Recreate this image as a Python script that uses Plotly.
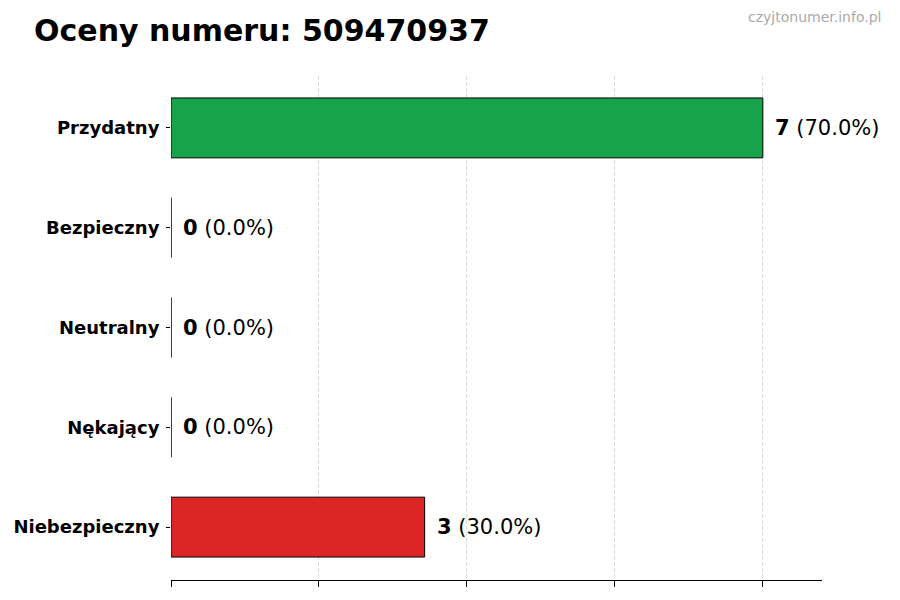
import plotly.graph_objects as go

categories = ["Niebezpieczny", "Nękający", "Neutralny", "Bezpieczny", "Przydatny"]
counts = [3, 0, 0, 0, 7]
colors = ["#dc2626", "#9ca3af", "#9ca3af", "#3b82f6", "#16a34a"]
title_text = "Oceny numeru: 509470937"
watermark = "czyjtonumer.info.pl"

total = sum(counts)
FONT = "DejaVu Sans"
OFF = 8  # page body margin

# plot area in page pixels
L, R, T, B = 171, 822, 76, 580
W, H = 900, 600

fig = go.Figure()
fig.add_trace(go.Bar(
    y=categories, x=counts, orientation="h", width=0.6,
    marker=dict(color=colors, line=dict(color="#000000", width=1)),
    hoverinfo="skip",
))

for cat, val in zip(categories, counts):
    pct = 100.0 * val / total if total else 0.0
    fig.add_annotation(
        x=val, y=cat, xref="x", yref="y",
        text=f"<b>{val}</b> ({pct:.1f}%)",
        showarrow=False, xanchor="left", yanchor="middle", xshift=10,
        font=dict(family=FONT, size=21, color="#000000"),
    )

pw = R - L
ph = B - T
fig.add_annotation(
    x=1 + (883 - R) / pw, xanchor="right", y=1 + (T - 17) / ph, yanchor="middle",
    xref="paper", yref="paper", text=watermark, showarrow=False,
    font=dict(family=FONT, size=14, color="#aaaaaa"),
)

fig.update_layout(
    width=W, height=H,
    margin=dict(l=L - OFF, r=W - (R - OFF), t=T - OFF, b=H - (B - OFF), autoexpand=False),
    paper_bgcolor="white", plot_bgcolor="white",
    showlegend=False,
    title=dict(text=f"<b>{title_text}</b>", x=(34 - OFF) / W, xanchor="left",
               y=1 - (30 - OFF) / H, yanchor="middle", automargin=False,
               font=dict(family=FONT, size=30, color="#000000")),
    font=dict(family=FONT),
    xaxis=dict(
        range=[0, 7.7], tick0=0, dtick=1.75, showticklabels=False,
        showgrid=True, gridcolor="#d9d9d9", griddash="4px,2px", gridwidth=0.8,
        zeroline=False, showline=True, linecolor="#000000", linewidth=1.2,
        ticks="outside", ticklen=6, tickcolor="#000000", tickwidth=1,
        layer="above traces", fixedrange=True, automargin=False,
    ),
    yaxis=dict(
        range=[-0.53, 4.52], showgrid=False, zeroline=False, showline=False,
        ticks="outside", ticklen=4, tickcolor="#000000", ticklabelstandoff=3,
        tickfont=dict(family=FONT, size=18, color="#000000", weight="bold"),
        fixedrange=True, automargin=False,
    ),
)

fig.write_html("out.html")
